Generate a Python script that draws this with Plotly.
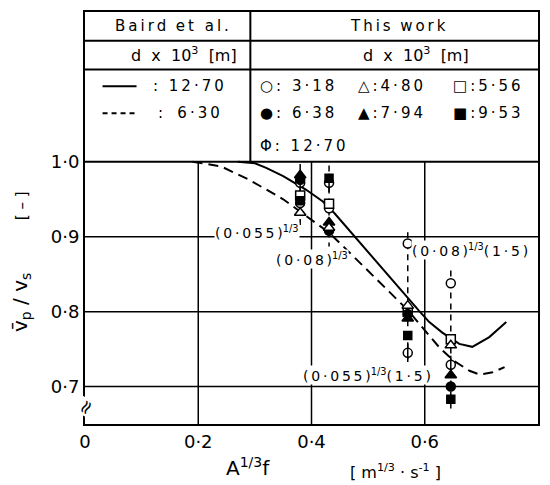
import re
import plotly.graph_objects as go

# ---------------- data ----------------
x_ticks = [0, 0.2, 0.4, 0.6, 0.8]
x_tick_text = ["0", "0·2", "0·4", "0·6", "0·8"]
y_ticks = [0.7, 0.8, 0.9, 1.0]
y_tick_text = ["0·7", "0·8", "0·9", "1·0"]

# Baird et al. correlation curves
baird_solid_x = [0.27, 0.30, 0.32, 0.35, 0.39, 0.42, 0.441, 0.50, 0.538, 0.59, 0.608, 0.631, 0.661, 0.684, 0.714, 0.744]
baird_solid_y = [1.0, 0.998, 0.992, 0.981, 0.963, 0.947, 0.931, 0.879, 0.846, 0.801, 0.786, 0.772, 0.757, 0.753, 0.766, 0.786]
baird_dash_x = [0.19, 0.24, 0.29, 0.35, 0.39, 0.43, 0.455, 0.50, 0.538, 0.570, 0.594, 0.626, 0.652, 0.679, 0.697, 0.72, 0.741]
baird_dash_y = [1.0, 0.994, 0.976, 0.950, 0.928, 0.906, 0.888, 0.855, 0.826, 0.802, 0.780, 0.752, 0.734, 0.721, 0.716, 0.719, 0.726]

# This work: A^(1/3) f positions
cluster_x = [0.380, 0.431, 0.570, 0.646]
range_top = [0.997, 0.995, 0.906, 0.855]
range_bottom = [0.912, 0.887, 0.736, 0.667]

d_318 = [0.945, 0.938, 0.891, 0.838]   # open circle
d_480 = [0.932, 0.912, 0.808, 0.755]   # open triangle
d_556 = [0.955, 0.944, 0.800, 0.763]   # open square
d_638 = [0.976, 0.908, 0.797, 0.700]   # filled circle
d_794 = [0.982, 0.919, 0.791, 0.715]   # filled triangle
d_953 = [0.948, 0.978, 0.768, 0.683]   # filled square
d_1270 = [0.972, 0.972, 0.745, 0.729]  # circle with bar

# ---------------- helpers ----------------
FONT = "DejaVu Sans"
BLACK = "black"
TS = "\u2009"  # thin space used for the wide letter spacing of the original


def sp(s):
    """insert thin spaces between visible characters (keeps html tags intact)"""
    parts = re.split(r"(<[^>]+>)", s)
    out = []
    for p in parts:
        if p.startswith("<"):
            out.append(p)
        else:
            out.append(TS.join(list(p)))
    return "".join(out)


fig = go.Figure()

# gridlines (drawn from tick arrays)
for v in x_ticks[1:-1]:
    fig.add_shape(type="line", x0=v, x1=v, y0=0.65, y1=1.0, xref="x", yref="y",
                  line=dict(color=BLACK, width=1.5), layer="below")
for v in y_ticks[:-1]:
    fig.add_shape(type="line", x0=0, x1=0.8, y0=v, y1=v, xref="x", yref="y",
                  line=dict(color=BLACK, width=1.5), layer="below")

# table (legend box)
tbl_div = 0.292
row1 = 1.1616
row2 = 1.1231
fig.add_shape(type="line", x0=0, x1=0.8, y0=1.0, y1=1.0, line=dict(color=BLACK, width=2))
fig.add_shape(type="line", x0=0, x1=0.8, y0=row1, y1=row1, line=dict(color=BLACK, width=2))
fig.add_shape(type="line", x0=0, x1=0.8, y0=row2, y1=row2, line=dict(color=BLACK, width=2))
fig.add_shape(type="line", x0=tbl_div, x1=tbl_div, y0=1.0, y1=1.2, line=dict(color=BLACK, width=2))
# legend line samples
fig.add_shape(type="line", x0=0.031, x1=0.091, y0=1.101, y1=1.101, line=dict(color=BLACK, width=2))
fig.add_shape(type="line", x0=0.031, x1=0.091, y0=1.065, y1=1.065, line=dict(color=BLACK, width=2, dash="5px,4px"))

# range (dashed vertical) lines for clusters
rx, ry = [], []
for xc, t, b in zip(cluster_x, range_top, range_bottom):
    rx += [xc, xc, None]
    ry += [t, b, None]
fig.add_trace(go.Scatter(x=rx, y=ry, mode="lines",
                         line=dict(color=BLACK, width=1.5, dash="6px,5px"),
                         hoverinfo="skip", showlegend=False))

# Baird curves
fig.add_trace(go.Scatter(x=baird_solid_x, y=baird_solid_y, mode="lines",
                         line=dict(color=BLACK, width=2), showlegend=False))
fig.add_trace(go.Scatter(x=baird_dash_x, y=baird_dash_y, mode="lines",
                         line=dict(color=BLACK, width=2, dash="10px,6px"), showlegend=False))


def add_markers(ys, symbol, filled, size=9):
    fig.add_trace(go.Scatter(
        x=cluster_x, y=ys, mode="markers", showlegend=False,
        marker=dict(symbol=symbol, size=size,
                    color=BLACK if filled else "white",
                    line=dict(color=BLACK, width=1.5))))


add_markers(d_1270, "circle", False)
fig.add_trace(go.Scatter(x=cluster_x, y=d_1270, mode="markers", showlegend=False,
                         marker=dict(symbol="line-ns-open", size=13, color=BLACK,
                                     line=dict(color=BLACK, width=1.5))))
add_markers(d_318, "circle", False)
add_markers(d_556, "square", False, 9)
add_markers(d_953, "square", True, 8)
add_markers(d_638, "circle", True)
add_markers(d_794, "triangle-up", True, 10)
add_markers(d_480, "triangle-up", False, 10)

# ---------------- annotations ----------------
ann = []


def txt(x, y, s, size=14, xanchor="center", yanchor="middle", bg=None, angle=0, xref="x", yref="y"):
    d = dict(x=x, y=y, text=s, showarrow=False, xref=xref, yref=yref,
             xanchor=xanchor, yanchor=yanchor, textangle=angle,
             font=dict(family=FONT, size=size, color=BLACK))
    if bg:
        d.update(bgcolor=bg, borderpad=0)
    ann.append(d)


# table text
txt(0.154, 1.181, sp("Baird") + "  " + sp("et al."), 15)
txt(0.553, 1.181, sp("This") + "  " + sp("work"), 15)
txt(0.174, 1.143, "d  x  10<sup>3</sup>  [" + sp("m") + "]", 16)
txt(0.585, 1.143, "d  x  10<sup>3</sup>  [" + sp("m") + "]", 16)
txt(0.116, 1.101, sp(": 12·70"), 15, xanchor="left")
txt(0.126, 1.065, sp(":") + "   " + sp("6·30"), 15, xanchor="left")
txt(0.305, 1.101, sp("○: 3·18"), 15, xanchor="left")
txt(0.305, 1.065, sp("●: 6·38"), 15, xanchor="left")
txt(0.305, 1.021, sp("Φ: 12·70"), 15, xanchor="left")
txt(0.478, 1.101, sp("△:4·80"), 15, xanchor="left")
txt(0.478, 1.065, sp("▲:7·94"), 15, xanchor="left")
txt(0.647, 1.101, sp("□:5·56"), 15, xanchor="left")
txt(0.647, 1.065, sp("■:9·53"), 15, xanchor="left")

# point-group labels
txt(0.379, 0.906, sp("(0·055)") + "<sup>1/3</sup>", 14, xanchor="right", bg="white")
txt(0.466, 0.870, sp("(0·08)") + "<sup>1/3</sup>", 14, xanchor="right", bg="white")
txt(0.576, 0.882, sp("(0·08)") + "<sup>1/3</sup>" + sp("(1·5)"), 14, xanchor="left", bg="white")
txt(0.612, 0.716, sp("(0·055)") + "<sup>1/3</sup>" + sp("(1·5)"), 14, xanchor="right", bg="white")

# axis break mark
txt(0, 0.673, "≈", 19, bg="white", angle=-60)

# axis titles
txt(0.36, -0.105, "A<sup>1/3</sup>f", 20, xref="paper", yref="paper")
txt(0.685, -0.115, "[ " + "m<sup>1/3</sup> · s<sup>-1</sup>" + " ]", 16, xref="paper", yref="paper")
txt(-0.14, 0.53, "[ – ]", 15, angle=-90, xref="paper", yref="paper")
txt(-0.14, 0.295, "v̄<sub>p</sub> / v<sub>s</sub>", 20, angle=-90, xref="paper", yref="paper")

fig.update_layout(
    width=550, height=485,
    margin=dict(l=85, r=11, t=10, b=61),
    paper_bgcolor="white", plot_bgcolor="white",
    showlegend=False,
    annotations=ann,
    xaxis=dict(range=[0, 0.8], tickvals=x_ticks, ticktext=x_tick_text,
               showgrid=False, zeroline=False, showline=True, linecolor=BLACK,
               linewidth=2, mirror=True, ticks="",
               tickfont=dict(family=FONT, size=18, color=BLACK)),
    yaxis=dict(range=[0.65, 1.2], tickvals=y_ticks, ticktext=y_tick_text,
               showgrid=False, zeroline=False, showline=True, linecolor=BLACK,
               linewidth=2, mirror=True, ticks="",
               tickfont=dict(family=FONT, size=18, color=BLACK)),
)

fig.write_html("out.html")
